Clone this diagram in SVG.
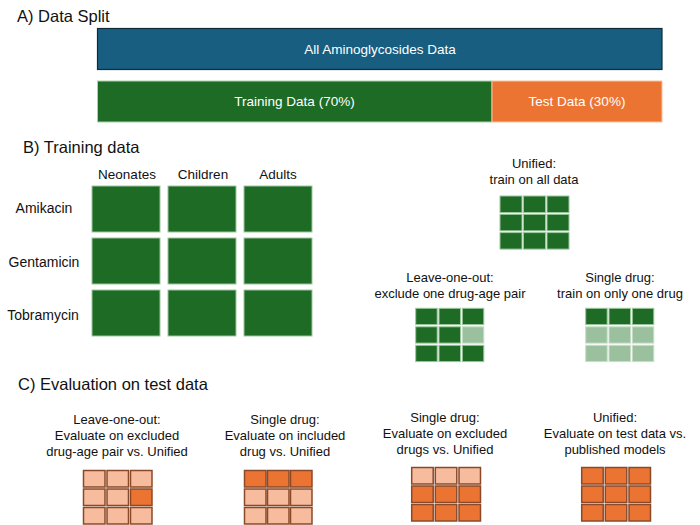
<svg xmlns="http://www.w3.org/2000/svg" width="700" height="525" viewBox="0 0 700 525">
<style>
text{font-family:"Liberation Sans",Arial,sans-serif;fill:#111;}
.h{font-size:16.5px;}
.l{font-size:13px;text-anchor:middle;}
.r{font-size:14px;text-anchor:middle;}
.c{font-size:13.5px;text-anchor:middle;}
.w{font-size:13.5px;text-anchor:middle;fill:#fff;}
.g{fill:#1E6B25;stroke:#9CC79E;stroke-width:1;}
.gl{fill:#9BC09D;stroke:#C8DEC9;stroke-width:1;}
.o{fill:#EB7433;stroke:#8A4A2A;stroke-width:1.5;}
.ol{fill:#F6BC9D;stroke:#8A4A2A;stroke-width:1.5;}
</style>
<rect width="700" height="525" fill="#fff"/>

<g id="sectionA">
<text class="h" x="17" y="22">A) Data Split</text>
<g id="all-data">
<rect x="97.5" y="28.5" width="564.5" height="41" fill="#175E81" stroke="#0E2C3C" stroke-width="1.2"/>
<text class="w" x="380" y="54">All Aminoglycosides Data</text>
</g>
<g id="training-data">
<rect x="97.5" y="81" width="394.5" height="41" fill="#1E6B25" stroke="#A8D3A9" stroke-width="1"/>
<text class="w" x="294.5" y="106">Training Data (70%)</text>
</g>
<g id="test-data">
<rect x="492" y="81" width="170" height="41" fill="#EB7433" stroke="#F7C2A2" stroke-width="1"/>
<text class="w" x="577" y="106">Test Data (30%)</text>
</g>
</g>

<g id="sectionB">
<text class="h" x="23" y="153">B) Training data</text>
<g id="training-grid">
<text class="c" x="127" y="179">Neonates</text>
<text class="c" x="203" y="179">Children</text>
<text class="c" x="278" y="179">Adults</text>
<text class="r" x="44" y="213">Amikacin</text>
<text class="r" x="44" y="267">Gentamicin</text>
<text class="r" x="43" y="320">Tobramycin</text>
<rect class="g" x="92" y="186" width="68" height="46"/>
<rect class="g" x="168" y="186" width="68" height="46"/>
<rect class="g" x="244" y="186" width="68" height="46"/>
<rect class="g" x="92" y="238" width="68" height="46"/>
<rect class="g" x="168" y="238" width="68" height="46"/>
<rect class="g" x="244" y="238" width="68" height="46"/>
<rect class="g" x="92" y="290" width="68" height="46"/>
<rect class="g" x="168" y="290" width="68" height="46"/>
<rect class="g" x="244" y="290" width="68" height="46"/>
</g>
<g id="unified-train">
<text class="l" x="534" y="168">Unified:</text>
<text class="l" x="534" y="184">train on all data</text>
<rect class="g" x="500" y="196" width="22" height="16.5"/>
<rect class="g" x="523.5" y="196" width="22" height="16.5"/>
<rect class="g" x="547" y="196" width="22" height="16.5"/>
<rect class="g" x="500" y="214.3" width="22" height="16.5"/>
<rect class="g" x="523.5" y="214.3" width="22" height="16.5"/>
<rect class="g" x="547" y="214.3" width="22" height="16.5"/>
<rect class="g" x="500" y="232.6" width="22" height="16.5"/>
<rect class="g" x="523.5" y="232.6" width="22" height="16.5"/>
<rect class="g" x="547" y="232.6" width="22" height="16.5"/>
</g>
<g id="loo-train">
<text class="l" x="450" y="282">Leave-one-out:</text>
<text class="l" x="450" y="298">exclude one drug-age pair</text>
<rect class="g" x="415.7" y="308.3" width="21.5" height="16.3"/>
<rect class="g" x="439" y="308.3" width="21.5" height="16.3"/>
<rect class="g" x="462.3" y="308.3" width="21.5" height="16.3"/>
<rect class="g" x="415.7" y="326.8" width="21.5" height="16.3"/>
<rect class="g" x="439" y="326.8" width="21.5" height="16.3"/>
<rect class="gl" x="462.3" y="326.8" width="21.5" height="16.3"/>
<rect class="g" x="415.7" y="345.3" width="21.5" height="16.3"/>
<rect class="g" x="439" y="345.3" width="21.5" height="16.3"/>
<rect class="g" x="462.3" y="345.3" width="21.5" height="16.3"/>
</g>
<g id="single-train">
<text class="l" x="620" y="282">Single drug:</text>
<text class="l" x="620" y="298">train on only one drug</text>
<rect class="g" x="585.7" y="308.3" width="21.5" height="16.3"/>
<rect class="g" x="609" y="308.3" width="21.5" height="16.3"/>
<rect class="g" x="632.3" y="308.3" width="21.5" height="16.3"/>
<rect class="gl" x="585.7" y="326.8" width="21.5" height="16.3"/>
<rect class="gl" x="609" y="326.8" width="21.5" height="16.3"/>
<rect class="gl" x="632.3" y="326.8" width="21.5" height="16.3"/>
<rect class="gl" x="585.7" y="345.3" width="21.5" height="16.3"/>
<rect class="gl" x="609" y="345.3" width="21.5" height="16.3"/>
<rect class="gl" x="632.3" y="345.3" width="21.5" height="16.3"/>
</g>
</g>

<g id="sectionC">
<text class="h" x="18" y="390">C) Evaluation on test data</text>
<g id="loo-eval">
<text class="l" x="117" y="424">Leave-one-out:</text>
<text class="l" x="117" y="440">Evaluate on excluded</text>
<text class="l" x="117" y="456">drug-age pair vs. Unified</text>
<rect class="ol" x="83.5" y="470.5" width="21.5" height="16.5"/>
<rect class="ol" x="107" y="470.5" width="21.5" height="16.5"/>
<rect class="ol" x="130.5" y="470.5" width="21.5" height="16.5"/>
<rect class="ol" x="83.5" y="489" width="21.5" height="16.5"/>
<rect class="ol" x="107" y="489" width="21.5" height="16.5"/>
<rect class="o" x="130.5" y="489" width="21.5" height="16.5"/>
<rect class="ol" x="83.5" y="507.5" width="21.5" height="16.5"/>
<rect class="ol" x="107" y="507.5" width="21.5" height="16.5"/>
<rect class="ol" x="130.5" y="507.5" width="21.5" height="16.5"/>
</g>
<g id="single-included-eval">
<text class="l" x="285" y="424">Single drug:</text>
<text class="l" x="285" y="440">Evaluate on included</text>
<text class="l" x="285" y="456">drug vs. Unified</text>
<rect class="o" x="244.5" y="470.5" width="21.5" height="16.5"/>
<rect class="o" x="267.5" y="470.5" width="21.5" height="16.5"/>
<rect class="o" x="290.5" y="470.5" width="21.5" height="16.5"/>
<rect class="ol" x="244.5" y="489" width="21.5" height="16.5"/>
<rect class="ol" x="267.5" y="489" width="21.5" height="16.5"/>
<rect class="ol" x="290.5" y="489" width="21.5" height="16.5"/>
<rect class="ol" x="244.5" y="507.5" width="21.5" height="16.5"/>
<rect class="ol" x="267.5" y="507.5" width="21.5" height="16.5"/>
<rect class="ol" x="290.5" y="507.5" width="21.5" height="16.5"/>
</g>
<g id="single-excluded-eval">
<text class="l" x="445" y="422">Single drug:</text>
<text class="l" x="445" y="438">Evaluate on excluded</text>
<text class="l" x="445" y="454">drugs vs. Unified</text>
<rect class="ol" x="411.7" y="467.5" width="21.5" height="16.5"/>
<rect class="ol" x="435.3" y="467.5" width="21.5" height="16.5"/>
<rect class="ol" x="459" y="467.5" width="21.5" height="16.5"/>
<rect class="o" x="411.7" y="486" width="21.5" height="16.5"/>
<rect class="o" x="435.3" y="486" width="21.5" height="16.5"/>
<rect class="o" x="459" y="486" width="21.5" height="16.5"/>
<rect class="o" x="411.7" y="504.5" width="21.5" height="16.5"/>
<rect class="o" x="435.3" y="504.5" width="21.5" height="16.5"/>
<rect class="o" x="459" y="504.5" width="21.5" height="16.5"/>
</g>
<g id="unified-eval">
<text class="l" x="615" y="422">Unified:</text>
<text class="l" x="615" y="438">Evaluate on test data vs.</text>
<text class="l" x="615" y="454">published models</text>
<rect class="o" x="581.7" y="467.5" width="21.5" height="16.5"/>
<rect class="o" x="605.3" y="467.5" width="21.5" height="16.5"/>
<rect class="o" x="629" y="467.5" width="21.5" height="16.5"/>
<rect class="o" x="581.7" y="486" width="21.5" height="16.5"/>
<rect class="o" x="605.3" y="486" width="21.5" height="16.5"/>
<rect class="o" x="629" y="486" width="21.5" height="16.5"/>
<rect class="o" x="581.7" y="504.5" width="21.5" height="16.5"/>
<rect class="o" x="605.3" y="504.5" width="21.5" height="16.5"/>
<rect class="o" x="629" y="504.5" width="21.5" height="16.5"/>
</g>
</g>
<g id="connectors"/>
</svg>
